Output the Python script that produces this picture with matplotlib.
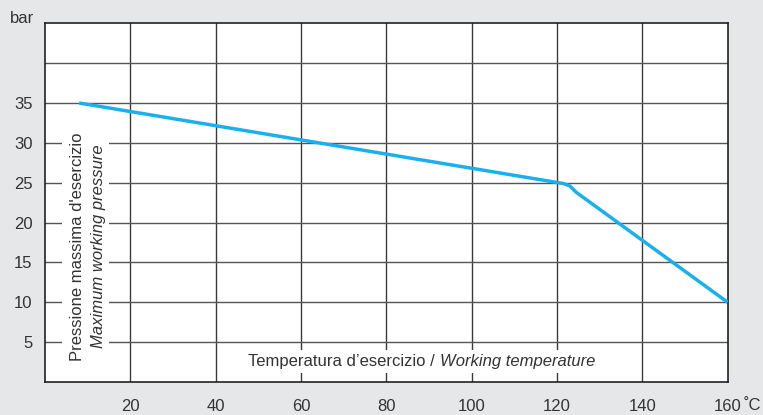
import numpy as np
import matplotlib
matplotlib.use("Agg")
import matplotlib.pyplot as plt

# dati
temperatura = [8, 121.5, 123, 124.5, 160]
pressione = [35, 24.9, 24.6, 23.8, 10]

xticks = [20, 40, 60, 80, 100, 120, 140, 160]
yticks = [5, 10, 15, 20, 25, 30, 35]

plt.rcParams['font.family'] = ['Liberation Sans', 'DejaVu Sans']

fig = plt.figure(figsize=(7.63, 4.15), dpi=100)
fig.patch.set_facecolor("#e6e7e9")
ax = fig.add_axes([0.059, 0.0795, 0.8947, 0.8644])
ax.set_facecolor("white")

ax.set_xlim(0, 160)
ax.set_ylim(0, 45)

# griglia
for xv in xticks[:-1]:
    ax.axvline(xv, color="#3a3a3a", lw=1, zorder=1)
for yv in range(5, 45, 5):
    ax.axhline(yv, color="#555555", lw=1, zorder=1)

ax.plot(temperatura, pressione, color="#19b0ec", lw=2.5, zorder=3,
        solid_capstyle="butt")

ax.set_xticks(xticks)
ax.set_yticks(yticks)
ax.tick_params(length=0, labelsize=12, labelcolor="#333333")
ax.tick_params(axis="y", pad=9)
ax.tick_params(axis="x", pad=12)
for s in ax.spines.values():
    s.set_color("#222222")
    s.set_linewidth(1.2)

# etichette interne con sfondo bianco
ax.text(7.6, 17.0, "Pressione massima d'esercizio", rotation=90,
        ha="center", va="center", fontsize=12, color="#333333", zorder=2,
        bbox=dict(facecolor="white", edgecolor="none", pad=6))
ax.text(12.6, 17.0, "Maximum working pressure", rotation=90, style="italic",
        ha="center", va="center", fontsize=12, color="#333333", zorder=2,
        bbox=dict(facecolor="white", edgecolor="none", pad=2))

ax.text(92.5, 2.55, "Temperatura d\u2019esercizio / ", ha="right", va="center",
        fontsize=12, color="#333333", zorder=2,
        bbox=dict(facecolor="white", edgecolor="none", pad=3))
ax.text(92.5, 2.55, "Working temperature", ha="left", va="center",
        style="italic", fontsize=12, color="#333333", zorder=2,
        bbox=dict(facecolor="white", edgecolor="none", pad=3))

fig.text(0.013, 0.955, "bar", ha="left", va="center", fontsize=12,
         color="#333333")
fig.text(0.9745, 0.024, "˚C", ha="left", va="center", fontsize=12,
         color="#333333")

fig.savefig("out.png", dpi=100, facecolor=fig.get_facecolor())
